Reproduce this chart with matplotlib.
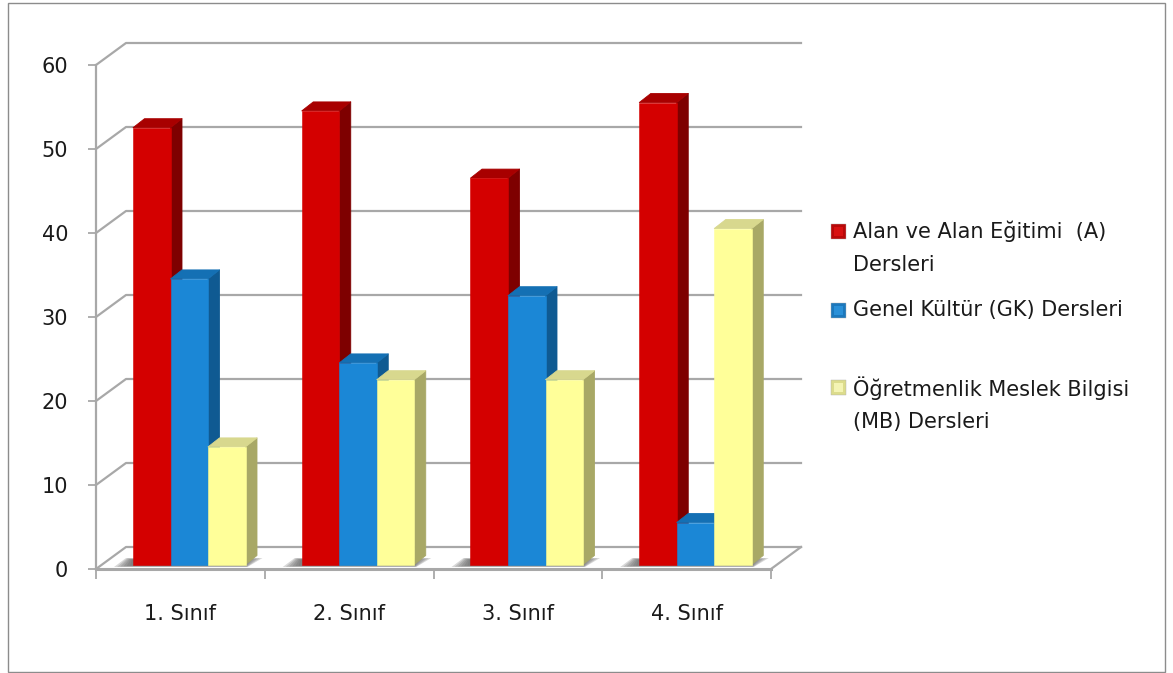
import matplotlib
matplotlib.use('Agg')
import matplotlib.pyplot as plt
from matplotlib.patches import Polygon, Rectangle

plt.rcParams['font.family'] = ['DejaVu Sans']

categories = ['1. Sınıf', '2. Sınıf', '3. Sınıf', '4. Sınıf']
alan = [52, 54, 46, 55]
genel = [34, 24, 32, 5]
meslek = [14, 22, 22, 40]
series = [alan, genel, meslek]
legend_labels = ['Alan ve Alan Eğitimi  (A)\nDersleri', 'Genel Kültür (GK) Dersleri', 'Öğretmenlik Meslek Bilgisi\n(MB) Dersleri']
yticks = [0, 10, 20, 30, 40, 50, 60]

# front, side, top
colors = [('#d40000', '#7e0000', '#a80000'),
          ('#1b87d6', '#0f5a92', '#1470b4'),
          ('#ffff99', '#a8a866', '#d8d88e')]
# swatch edge, swatch middle
legend_colors = [('#b80808', '#d81010'), ('#1c78bc', '#2a90d8'), ('#dcdc8c', '#f4f4b4')]
grid_col = '#a8a8a8'
text_col = '#1a1a1a'

W, H = 1173, 673
fig = plt.figure(figsize=(W / 100, H / 100), dpi=100)
fig.patch.set_facecolor('white')
fig.add_artist(Rectangle((8 / W, 1 - 672 / H), 1157 / W, 669 / H, transform=fig.transFigure,
                         fill=False, edgecolor='#8c8c8c', linewidth=1.0))

ax = fig.add_axes([96 / W, 1 - 569 / H, 675 / W, 504 / H])
ax.set_xlim(0, 4)
ax.set_ylim(0, 60)
ax.patch.set_alpha(0)

# pixel sizes turned into data units
ux = 4 / 675
uy = 60 / 504
wall_dx, wall_dy = 30 * ux, 22 * uy
bar_w = 37.5 * ux
bar_start = 37 * ux
base = 4.5 * uy
depth_x, depth_y = 11.5 * ux, 9 * uy

# walls
for t in yticks:
    ax.plot([0, wall_dx, 4 + wall_dx], [t, t + wall_dy, t + wall_dy], color=grid_col, lw=1.6, clip_on=False, zorder=1)
ax.plot([4, 4 + wall_dx], [0, wall_dy], color=grid_col, lw=1.6, clip_on=False, zorder=1)

for g in range(len(categories)):
    left = g + bar_start
    right = left + 3 * bar_w
    # soft floor shadow, fades away from the bars
    for k in range(6):
        f = 1 - k / 6
        ax.add_patch(Polygon([(left - 19 * f * ux, (2 + 1.5 * (1 - f)) * uy), (right + 2 * f * ux, (2 + 1.5 * (1 - f)) * uy),
                              (right + 17 * f * ux, (11 - 2 * (1 - f)) * uy), (left - 7 * f * ux, (11 - 2 * (1 - f)) * uy)],
                             facecolor='#6a6a6a', edgecolor='none', alpha=0.26, zorder=1.5))
    for s, values in enumerate(series):
        v = values[g]
        x0 = left + s * bar_w
        x1 = x0 + bar_w
        top = base + v
        front, side, cap = colors[s]
        z = 2 + g + s * 0.1
        ax.add_patch(Polygon([(x1, base), (x1 + depth_x, base + depth_y), (x1 + depth_x, top + depth_y), (x1, top)],
                             facecolor=side, edgecolor=side, lw=0.6, joinstyle='round', zorder=z))
        ax.add_patch(Polygon([(x0, top), (x1, top), (x1 + depth_x, top + depth_y), (x0 + depth_x, top + depth_y)],
                             facecolor=cap, edgecolor=cap, lw=0.6, joinstyle='round', zorder=z))
        ax.add_patch(Rectangle((x0, base), bar_w, v, facecolor=front, edgecolor=front, lw=0.4, zorder=z + 0.01))

# axes and ticks
for name in ['top', 'right']:
    ax.spines[name].set_visible(False)
for name in ['left', 'bottom']:
    ax.spines[name].set_color(grid_col)
    ax.spines[name].set_linewidth(1.6)
    ax.spines[name].set_zorder(1)
ax.spines['bottom'].set_linewidth(2.2)
ax.set_yticks(yticks)
ax.tick_params(axis='y', length=6, width=1.3, color=grid_col, pad=14, labelsize=15, labelcolor=text_col)
ax.set_xticks(range(5))
ax.set_xticklabels([])
ax.tick_params(axis='x', which='major', length=7, width=1.3, color=grid_col)
ax.set_xticks([i + 0.5 for i in range(4)], minor=True)
ax.set_xticklabels(categories, minor=True)
ax.tick_params(axis='x', which='minor', length=0, pad=25, labelsize=15, labelcolor=text_col)

# legend, placed by hand because the entries are unevenly spaced
legend_y = [231, 310, 387]
text_y = [221, 300, 376]
for y, ty, label, (edge, mid) in zip(legend_y, text_y, legend_labels, legend_colors):
    fig.add_artist(Rectangle((831 / W, 1 - (y + 7.5) / H), 15 / W, 15 / H, transform=fig.transFigure,
                             facecolor=edge, edgecolor='#b0b0b0', linewidth=0.3))
    fig.add_artist(Rectangle((834 / W, 1 - (y + 4.5) / H), 9 / W, 9 / H, transform=fig.transFigure,
                             facecolor=mid, edgecolor='none'))
    fig.text(853 / W, 1 - ty / H, label, ha='left', va='top', fontsize=15, color=text_col, linespacing=1.8)

fig.savefig('out.png', dpi=100)
